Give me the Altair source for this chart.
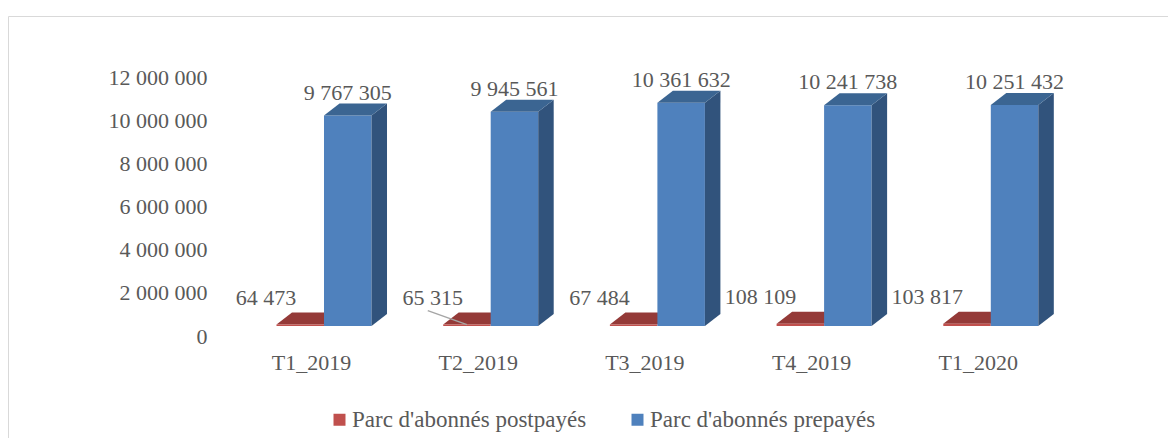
import json
import pandas as pd
import altair as alt

# ---------------- data ----------------
categories = ["T1_2019", "T2_2019", "T3_2019", "T4_2019", "T1_2020"]
postpaid = [64473, 65315, 67484, 108109, 103817]
prepaid = [9767305, 9945561, 10361632, 10241738, 10251432]
series_names = ["Parc d'abonnés postpayés", "Parc d'abonnés prepayés"]
y_ticks = [0, 2000000, 4000000, 6000000, 8000000, 10000000, 12000000]
leader_cats = ["T2_2019"]   # data label drawn with a leader line

# ---------------- style ----------------
series_colors = ["#c0504d", "#4f81bd"]
top_colors = ["#943a38", "#3b6592"]
side_colors = ["#7a2f2d", "#31537c"]
FONT = "Liberation Serif, DejaVu Serif, serif"
TXT = "#595959"
BAR_W = 0.285        # bar width, in category units
RED_START = -0.207   # first bar offset from the category tick
DEPTH_X = 0.093      # 3-D depth (category units)
DEPTH_Y = 557000     # 3-D depth (value units)
LEADER_DX = -0.235   # leader line horizontal reach (category units)
LEADER_DY = 650000   # leader line vertical reach (value units)
X_DOMAIN = [-1.8176, 5.1410]
Y_DOMAIN = [-5197216, 14756469]
W, H = 1160, 430


def fmt(v):
    return f"{v:,}".replace(",", " ")


fronts, tops, sides, labels, leaders = [], [], [], [], []
for i, (c, pv, pr) in enumerate(zip(categories, postpaid, prepaid)):
    for k, (s, v) in enumerate(zip(series_names, [pv, pr])):
        x0 = i + RED_START + k * BAR_W
        x1 = x0 + BAR_W
        key = f"{c}-{k}"
        fronts.append(dict(cat=c, series=s, x0=x0, x1=x1, base=0, v=v))
        for (xx, yy, yy2) in [
            (x0, v, v),
            (x0 + DEPTH_X, v + DEPTH_Y, v),
            (x1, v + DEPTH_Y, v),
            (x1 + DEPTH_X, v + DEPTH_Y, v + DEPTH_Y),
        ]:
            tops.append(dict(key=key, x=xx, y=yy, y2=yy2, shade=top_colors[k], k=k))
        if k == 1:
            for (xx, yy, yy2) in [(x1, v, 0), (x1 + DEPTH_X, v + DEPTH_Y, DEPTH_Y)]:
                sides.append(dict(key=key, x=xx, y=yy, y2=yy2, shade=side_colors[k]))
        labels.append(dict(k=k, x=(x0 + x1) / 2, y=v + DEPTH_Y, text=fmt(v)))
        if k == 0 and c in leader_cats:
            xc = (x0 + x1) / 2
            leaders.append(dict(xa=xc + LEADER_DX, ya=v + LEADER_DY, xb=xc, yb=v))

df_front = pd.DataFrame(fronts)
df_top = pd.DataFrame(tops)
df_side = pd.DataFrame(sides)
df_lab = pd.DataFrame(labels)
df_lead = pd.DataFrame(leaders)

xs = alt.Scale(domain=X_DOMAIN, nice=False, zero=False)
ys = alt.Scale(domain=Y_DOMAIN, nice=False, zero=False)

x_label_expr = json.dumps(categories) + "[datum.value]"
xaxis = alt.Axis(values=list(range(len(categories))), labelExpr=x_label_expr, title=None,
                 domain=False, ticks=False, tickSize=0, labelPadding=0, grid=False,
                 offset=-86, labelFont=FONT, labelFontSize=22, labelColor=TXT,
                 labelOverlap=False, labelFlush=False)
yaxis = alt.Axis(values=y_ticks,
                 labelExpr="replace(format(datum.value, ','), regexp(',', 'g'), ' ')",
                 title=None, domain=False, ticks=False, tickSize=0, labelPadding=0,
                 grid=False, offset=-199, labelOffset=10, labelFont=FONT,
                 labelFontSize=22, labelColor=TXT, labelOverlap=False, labelFlush=False)

red_top = alt.Chart(df_top).transform_filter("datum.k == 0").mark_area(orient="vertical").encode(
    x=alt.X("x:Q", scale=xs, axis=xaxis),
    y=alt.Y("y:Q", scale=ys, axis=yaxis, stack=None),
    y2="y2:Q",
    detail="key:N",
    fill=alt.Fill("shade:N", scale=None, legend=None),
)

front = alt.Chart(df_front).mark_rect().encode(
    x=alt.X("x0:Q", scale=xs, axis=xaxis),
    x2="x1:Q",
    y=alt.Y("base:Q", scale=ys, axis=yaxis),
    y2="v:Q",
    color=alt.Color("series:N",
                    scale=alt.Scale(domain=series_names, range=series_colors),
                    legend=alt.Legend(title=None, orient="none", legendX=320, legendY=400,
                                      direction="horizontal", symbolType="square",
                                      symbolSize=144, symbolStrokeWidth=0,
                                      labelFont=FONT, labelFontSize=23, labelColor=TXT,
                                      labelLimit=0, labelOffset=1, columnPadding=39)),
)

side = alt.Chart(df_side).mark_area(orient="vertical").encode(
    x=alt.X("x:Q", scale=xs, axis=xaxis),
    y=alt.Y("y:Q", scale=ys, axis=yaxis, stack=None),
    y2="y2:Q",
    detail="key:N",
    fill=alt.Fill("shade:N", scale=None, legend=None),
)

blue_top = alt.Chart(df_top).transform_filter("datum.k == 1").mark_area(orient="vertical").encode(
    x=alt.X("x:Q", scale=xs, axis=xaxis),
    y=alt.Y("y:Q", scale=ys, axis=yaxis, stack=None),
    y2="y2:Q",
    detail="key:N",
    fill=alt.Fill("shade:N", scale=None, legend=None),
)

leader = alt.Chart(df_lead).mark_rule(color="#a6a6a6", strokeWidth=1.5).encode(
    x=alt.X("xa:Q", scale=xs, axis=xaxis),
    x2="xb:Q",
    y=alt.Y("ya:Q", scale=ys, axis=yaxis),
    y2="yb:Q",
)

lab_blue = alt.Chart(df_lab).transform_filter("datum.k == 1").mark_text(
    font=FONT, fontSize=22, color=TXT, align="center", baseline="middle", dy=-11
).encode(
    x=alt.X("x:Q", scale=xs, axis=xaxis),
    y=alt.Y("y:Q", scale=ys, axis=yaxis),
    text="text:N",
)

lab_red = alt.Chart(df_lab).transform_filter("datum.k == 0").mark_text(
    font=FONT, fontSize=22, color=TXT, align="right", baseline="middle", dy=-15, dx=-4
).encode(
    x=alt.X("x:Q", scale=xs, axis=xaxis),
    y=alt.Y("y:Q", scale=ys, axis=yaxis),
    text="text:N",
)

frame_df = pd.DataFrame({"one": [1]})
frame_top = alt.Chart(frame_df).mark_rule(color="#d9d9d9", strokeWidth=1).encode(
    x=alt.value(0.5), x2=alt.value(W), y=alt.value(8.5)
)
frame_left = alt.Chart(frame_df).mark_rule(color="#d9d9d9", strokeWidth=1).encode(
    x=alt.value(0.5), y=alt.value(8.5), y2=alt.value(H)
)

chart = alt.layer(
    red_top, front, side, blue_top, leader, lab_blue, lab_red, frame_top, frame_left
).properties(
    width=W, height=H,
    autosize=alt.AutoSizeParams(type="none"),
    padding=0,
    background="white",
).configure_view(stroke=None)

chart.save("out.html", embed_options={"renderer": "svg", "actions": False})
